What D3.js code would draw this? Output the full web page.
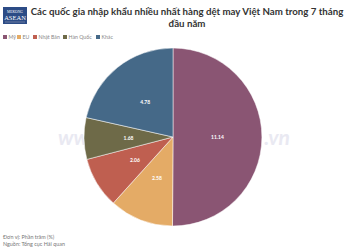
<!DOCTYPE html>
<html><head><meta charset="utf-8">
<script src="https://cdn.jsdelivr.net/npm/d3@7"></script>
<style>body{margin:0;background:#fff}svg{display:block}</style>
</head><body>
<script>
const categories = ["Mỹ", "EU", "Nhật Bản", "Hàn Quốc", "Khác"];
const values = [11.14, 2.58, 2.06, 1.68, 4.78];
const colors = ["#8a5573", "#e4ab66", "#bf5f50", "#6e6a48", "#456988"];
const title1 = "Các quốc gia nhập khẩu nhiều nhất hàng dệt may Việt Nam trong 7 tháng";
const title2 = "đầu năm";
const footer = ["Đơn vị: Phần trăm (%)", "Nguồn: Tổng cục Hải quan"];

const W = 350, H = 252;
const svg = d3.select("body").append("svg").attr("width", W).attr("height", H);
const font = "Lato, 'Open Sans', sans-serif";

// watermark (only the parts visible outside the pie)
const wm = svg.append("g").attr("font-family", font).attr("font-style", "italic")
  .attr("font-weight", "bold").attr("font-size", 21).attr("fill", "#e9e9f2");
wm.append("text").attr("x", 58).attr("y", 145).text("ww");
wm.append("text").attr("x", 290).attr("y", 145).attr("text-anchor", "end").text(".vn");

// logo
const logo = svg.append("g");
logo.append("rect").attr("x", 3).attr("y", 7).attr("width", 24).attr("height", 17).attr("fill", "#2c4c86");
logo.append("text").attr("x", 15).attr("y", 13).attr("text-anchor", "middle").attr("font-family", "serif")
  .attr("font-size", 3.6).attr("fill", "#fff").text("MEKONG");
logo.append("text").attr("x", 15).attr("y", 20).attr("text-anchor", "middle").attr("font-family", "'Liberation Serif', serif")
  .attr("font-size", 6.5).attr("fill", "#fff").text("ASEAN");
logo.append("line").attr("x1", 5).attr("x2", 25).attr("y1", 22).attr("y2", 22).attr("stroke", "#aab").attr("stroke-width", 0.5);

// title
svg.append("text").attr("x", 187).attr("y", 15).attr("text-anchor", "middle")
  .attr("font-family", font).attr("font-weight", "bold").attr("font-size", 9.7).attr("fill", "#333").text(title1);
svg.append("text").attr("x", 187).attr("y", 27).attr("text-anchor", "middle")
  .attr("font-family", font).attr("font-weight", "bold").attr("font-size", 9.7).attr("fill", "#333").text(title2);

// legend
const legendX = [3, 17, 33, 63, 96];
const lg = svg.append("g").selectAll("g").data(categories).join("g")
  .attr("transform", (d, i) => `translate(${legendX[i]},35)`);
lg.append("rect").attr("width", 4).attr("height", 4).attr("fill", (d, i) => colors[i]);
lg.append("text").attr("x", 5.5).attr("y", 3.8).attr("font-family", font).attr("font-size", 5.2)
  .attr("fill", "#888").text(d => d);

// pie
const cx = 173, cy = 137, r = 89;
const pie = d3.pie().sort(null).value(d => d)(values);
const arc = d3.arc().innerRadius(0).outerRadius(r);
const labelArc = d3.arc().innerRadius(r * 0.5).outerRadius(r * 0.5);
const g = svg.append("g").attr("transform", `translate(${cx},${cy})`);
g.selectAll("path").data(pie).join("path").attr("d", arc)
  .attr("fill", (d, i) => colors[i]).attr("stroke", "#fff").attr("stroke-width", 0.5);
g.selectAll("text").data(pie).join("text")
  .attr("transform", d => `translate(${labelArc.centroid(d)})`)
  .attr("text-anchor", "middle").attr("dy", "0.35em")
  .attr("font-family", font).attr("font-weight", "bold").attr("font-size", 5)
  .attr("fill", "#fff").text(d => d.data.toFixed(2));

// footer
svg.append("g").selectAll("text").data(footer).join("text")
  .attr("x", 3).attr("y", (d, i) => 239 + i * 7)
  .attr("font-family", font).attr("font-size", 5.4).attr("fill", "#777").text(d => d);
</script>
</body></html>
